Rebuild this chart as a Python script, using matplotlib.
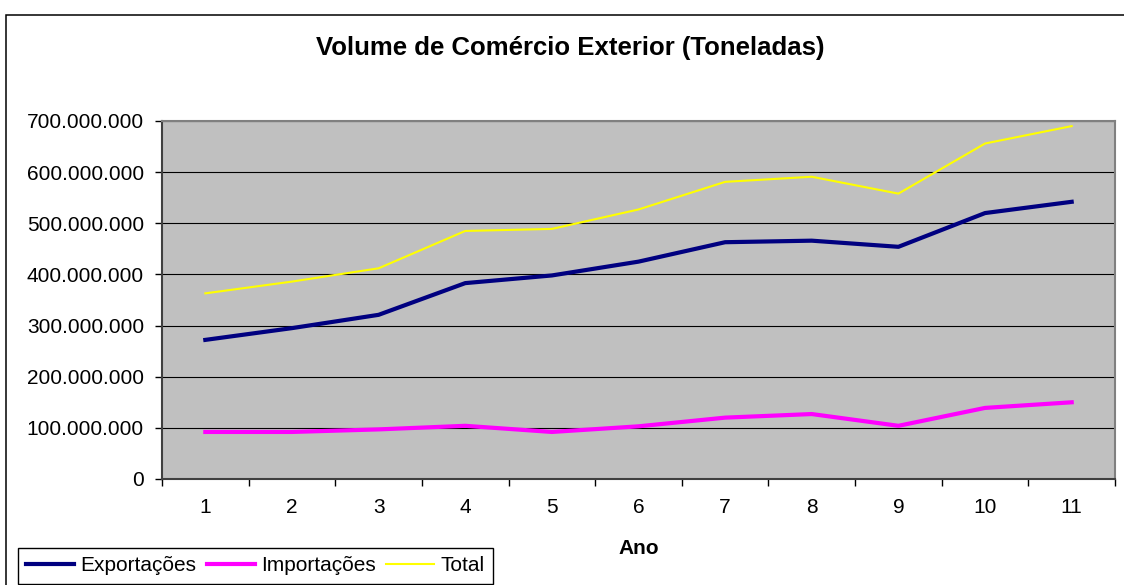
import matplotlib
matplotlib.use("Agg")
import matplotlib.pyplot as plt
from matplotlib.ticker import FuncFormatter, MultipleLocator, FixedLocator
from matplotlib.patches import Rectangle

plt.rcParams['font.family'] = ['Liberation Sans', 'DejaVu Sans']

anos = [1, 2, 3, 4, 5, 6, 7, 8, 9, 10, 11]
exportacoes = [272e6, 295e6, 321e6, 383e6, 398e6, 425e6, 463e6, 466e6, 454e6, 520e6, 542e6]
importacoes = [92e6, 92e6, 97e6, 104e6, 92e6, 103e6, 120e6, 127e6, 104e6, 139e6, 150e6]
total = [363e6, 386e6, 412e6, 485e6, 489e6, 527e6, 581e6, 591e6, 558e6, 656e6, 690e6]

W, H = 1124, 585
fig = plt.figure(figsize=(W / 100, H / 100), dpi=100)
fig.patch.set_facecolor('white')

# outer chart border (left and top visible; extends past right/bottom)
fig.patches.append(Rectangle((6 / W, -0.2), 1.2, 1.2 - 15 / H + 0.0, transform=fig.transFigure,
                             fill=False, edgecolor='black', linewidth=1.1, zorder=0))

left, right, top, bottom = 162, 1115, 121, 479
ax = fig.add_axes([left / W, 1 - bottom / H, (right - left) / W, (bottom - top) / H])
ax.set_facecolor('#C0C0C0')

ax.plot(anos, exportacoes, color='#000080', linewidth=3, label='Exportações', zorder=3)
ax.plot(anos, importacoes, color='#FF00FF', linewidth=3, label='Importações', zorder=3)
ax.plot(anos, total, color='#FFFF00', linewidth=1.5, label='Total', zorder=3)

ax.set_xlim(0.5, 11.5)
ax.set_ylim(0, 700e6)
ax.yaxis.set_major_locator(MultipleLocator(100e6))
ax.yaxis.set_major_formatter(FuncFormatter(lambda v, p: f"{int(round(v)):,}".replace(',', '.')))
ax.grid(axis='y', color='black', linewidth=0.8)
ax.set_axisbelow(True)

ax.xaxis.set_major_locator(FixedLocator(anos))
ax.xaxis.set_minor_locator(FixedLocator([a + 0.5 for a in [0] + anos]))
ax.tick_params(axis='x', which='major', length=0, labelsize=15, pad=14)
ax.tick_params(axis='x', which='minor', length=5, width=1, color='black', direction='out')
ax.tick_params(axis='y', which='major', length=5, width=1, color='black', direction='out',
               labelsize=15, pad=8)

for s in ['top', 'right']:
    ax.spines[s].set_color('#808080')
    ax.spines[s].set_linewidth(1.5)
for s in ['left', 'bottom']:
    ax.spines[s].set_color('#404040')
    ax.spines[s].set_linewidth(1.5)

ax.set_xlabel('Ano', fontsize=15, fontweight='bold', va='center')
ax.xaxis.set_label_coords(0.5, (bottom - 549) / (bottom - top))

fig.text(570 / W, 1 - 48 / H, 'Volume de Comércio Exterior (Toneladas)',
         ha='center', va='center', fontsize=18.5, fontweight='bold')

leg = fig.legend(loc='upper left', bbox_to_anchor=(18 / W, 1 - 548 / H), ncol=3,
                 fontsize=15, frameon=True, fancybox=False, edgecolor='black',
                 framealpha=1, borderaxespad=0, handlelength=2.3, handletextpad=0.3,
                 columnspacing=0.5, borderpad=0.4)
leg.get_frame().set_linewidth(1.0)

fig.savefig('out.png', dpi=100)
